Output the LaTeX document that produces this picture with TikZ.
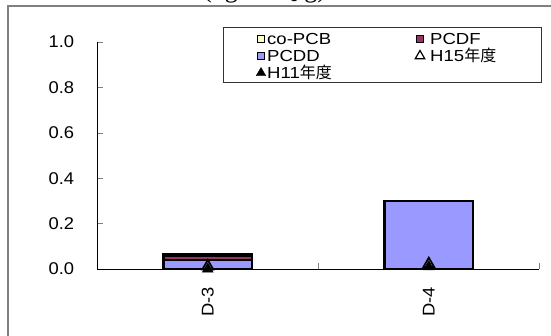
\documentclass[tikz,border=0pt]{standalone}
\usepackage{fontspec}
\setmainfont[FakeStretch=1.08]{Liberation Sans}
\newfontfamily\legfont[FakeStretch=1.16]{Liberation Sans}
\newfontfamily\jpfont{Noto Sans CJK JP}
\newfontfamily\titlefont{Liberation Serif}
\usetikzlibrary{shapes.geometric}
\definecolor{pcdd}{HTML}{9999FF}
\definecolor{pcdf}{HTML}{993366}
\definecolor{copcb}{HTML}{FFFFCC}
\definecolor{framegray}{HTML}{808080}
\tikzset{
  barbox/.style={draw=black,line width=2.6pt},
  tri/.style={regular polygon,regular polygon sides=3,inner sep=0pt,minimum size=12.5pt,draw=black},
  swatch/.style={draw=black,line width=0.9pt,minimum size=7.5pt,inner sep=0pt},
  legtext/.style={anchor=base west,inner sep=0pt,font=\legfont\fontsize{16}{16}\selectfont},
  ticklab/.style={anchor=east,inner sep=0pt,font=\fontsize{17}{17}\selectfont},
  catlab/.style={rotate=90,anchor=east,inner sep=0pt,font=\fontsize{17}{17}\selectfont}
}
\begin{document}
\begin{tikzpicture}[x=1pt,y=1pt]
\useasboundingbox (0,0) rectangle (551,335);
\begin{scope}
\clip (0,0) rectangle (551,335);
\node[anchor=base west,inner sep=0pt,font=\titlefont\fontsize{26}{26}\selectfont] (title) at (203,337) {(ng-TEQ/g)};
\draw[framegray,line width=1.5pt] (8,-10) -- (8,329) -- (560,329);
\end{scope}
\begin{scope}[shift={(97.3,66)},x=221pt,y=227pt]
\foreach \t [count=\i from 0] in {0.0,0.2,0.4,0.6,0.8,1.0}{
  \draw[framegray] (0,\t) -- ++(6pt,0);
  \node[ticklab] (ylab\i) at ([xshift=-23pt]0,\t) {\t};
}
\foreach \c in {1,2} \draw[framegray] (\c,0) -- ++(0,6pt);
\draw[line width=1pt] (0,1) -- (0,0) -- (2,0);
\draw[barbox,fill=pcdd] (0.3,0) rectangle (0.7,0.04);
\draw[barbox,fill=pcdf] (0.3,0.04) rectangle (0.7,0.058);
\draw[barbox,fill=copcb] (0.3,0.058) rectangle (0.7,0.064);
\draw[barbox,fill=pcdd] (1.3,0) rectangle (1.7,0.30);
\node[tri,fill=white,line width=1.8pt] (hfa) at (0.5,0.012) {};
\node[tri,fill=white,line width=1.8pt] (hfb) at (1.5,0.022) {};
\node[tri,fill=black] (hea) at (0.5,0.0) {};
\node[tri,fill=black] (heb) at (1.5,0.01) {};
\node[catlab] (d3) at ([yshift=-18pt]0.5,0) {D-3};
\node[catlab] (d4) at ([yshift=-18pt]1.5,0) {D-4};
\end{scope}
\draw[black!80,line width=1pt] (223,307) rectangle (541,252);
\node[swatch,fill=copcb] (kcopcb) at (261,296) {};
\node[legtext] (tcopcb) at (267,290.5) {co-PCB};
\node[swatch,fill=pcdf] (kpcdf) at (420,296) {};
\node[legtext] (tpcdf) at (430,290.5) {PCDF};
\node[swatch,fill=pcdd] (kpcdd) at (261,279) {};
\node[legtext] (tpcdd) at (267,273.5) {PCDD};
\node[tri,fill=white,line width=1.2pt,minimum size=11pt] (kh15) at (420,279) {};
\node[legtext] (th15) at (430,273.5) {H15{\jpfont 年度}};
\node[tri,fill=black,minimum size=11pt] (kh11) at (261,262) {};
\node[legtext] (th11) at (267,256.5) {H11{\jpfont 年度}};
\end{tikzpicture}
\end{document}
